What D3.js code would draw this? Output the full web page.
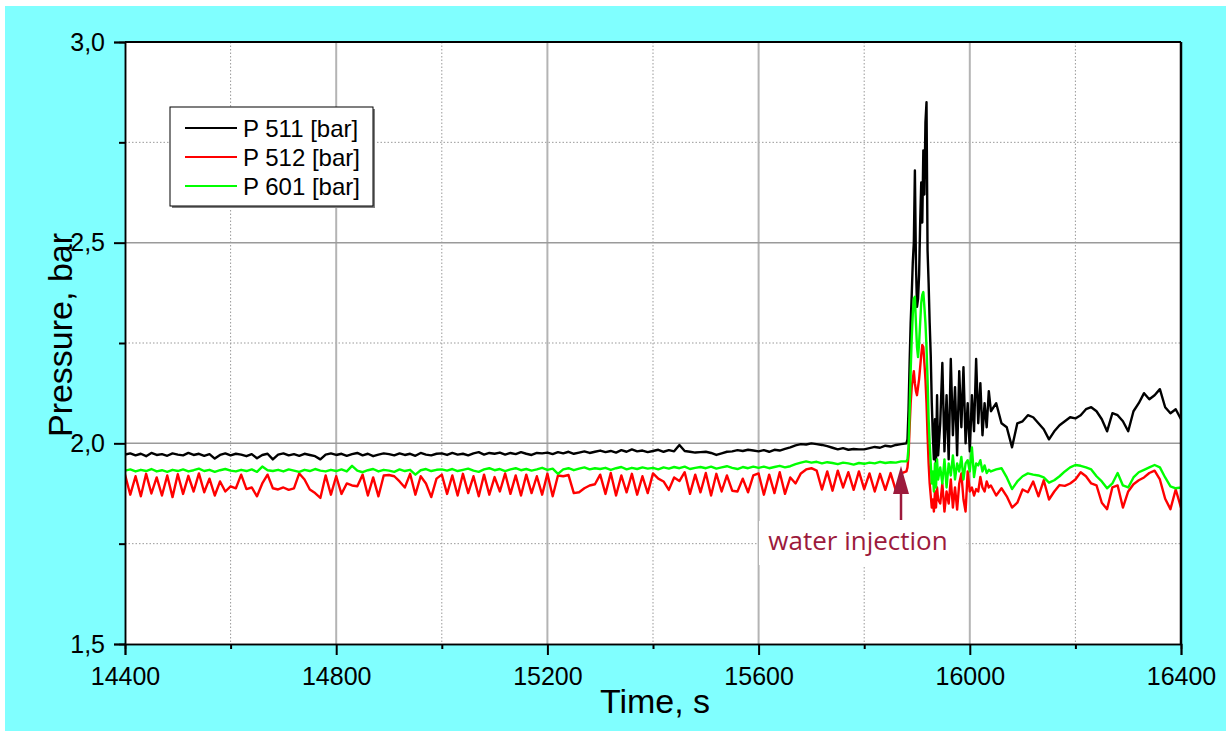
<!DOCTYPE html>
<html>
<head>
<meta charset="utf-8">
<script src="https://cdn.jsdelivr.net/npm/d3@7"></script>
<style>
  body { margin: 0; background: #fff; }
  svg { display: block; }
</style>
</head>
<body>
<div id="chart"></div>
<script>
// axis ticks
const yMajor = [1.5, 2.0, 2.5, 3.0];
const yMinor = [1.75, 2.25, 2.75];
const xMajor = [14400, 14800, 15200, 15600, 16000, 16400];
const xMinor = [14600, 15000, 15400, 15800, 16200];

const seriesNames = ['P 511 [bar]', 'P 512 [bar]', 'P 601 [bar]'];
const seriesColors = ['#000000', '#ff0000', '#00ff00'];

// regular samples every 10 s before and after the injection burst
const preStart = 14400;
const postStart = 16050;
const step = 10;

const p511Pre = [
  1.972,1.975,1.970,1.974,1.968,1.976,1.971,1.973,1.969,1.975,
  1.972,1.970,1.976,1.971,1.974,1.969,1.973,1.962,1.971,1.975,
  1.970,1.974,1.972,1.968,1.973,1.963,1.971,1.974,1.960,1.972,
  1.975,1.970,1.973,1.969,1.974,1.971,1.968,1.960,1.972,1.975,
  1.971,1.974,1.969,1.973,1.976,1.970,1.974,1.968,1.972,1.975,
  1.973,1.970,1.975,1.971,1.974,1.969,1.976,1.972,1.970,1.974,
  1.975,1.971,1.976,1.972,1.974,1.970,1.975,1.978,1.972,1.976,
  1.974,1.977,1.972,1.976,1.973,1.978,1.974,1.971,1.976,1.975,
  1.977,1.973,1.978,1.975,1.979,1.974,1.977,1.980,1.976,1.979,
  1.982,1.978,1.981,1.977,1.983,1.979,1.985,1.980,1.982,1.978,
  1.981,1.984,1.979,1.983,1.980,1.996,1.981,1.979,1.977,1.978,
  1.979,1.976,1.971,1.975,1.979,1.980,1.983,1.981,1.984,1.982,
  1.980,1.983,1.979,1.984,1.982,1.986,1.990,1.995,1.998,1.997,
  2.000,1.998,1.996,1.993,1.989,1.985,1.988,1.984,1.986,1.985,
  1.985,1.988,1.991,1.989,1.994,1.992,1.996,1.998
];
const p512Pre = [
  1.922,1.872,1.918,1.868,1.924,1.875,1.915,1.870,1.920,1.866,
  1.923,1.874,1.919,1.880,1.925,1.878,1.912,1.870,1.905,1.880,
  1.893,1.888,1.922,1.886,1.890,1.868,1.900,1.922,1.888,1.885,
  1.890,1.884,1.888,1.925,1.910,1.885,1.876,1.864,1.920,1.872,
  1.918,1.874,1.900,1.895,1.893,1.922,1.870,1.915,1.868,1.920,
  1.921,1.918,1.905,1.890,1.924,1.872,1.918,1.900,1.866,1.912,
  1.922,1.874,1.920,1.870,1.924,1.876,1.918,1.868,1.922,1.872,
  1.916,1.880,1.925,1.874,1.920,1.870,1.922,1.876,1.918,1.872,
  1.924,1.868,1.920,1.918,1.921,1.876,1.878,1.888,1.895,1.898,
  1.922,1.874,1.926,1.870,1.920,1.878,1.924,1.872,1.918,1.876,
  1.925,1.912,1.905,1.884,1.915,1.906,1.928,1.874,1.922,1.878,
  1.926,1.870,1.924,1.880,1.920,1.882,1.880,1.912,1.878,1.920,
  1.925,1.872,1.922,1.876,1.928,1.874,1.915,1.900,1.925,1.935,
  1.938,1.932,1.885,1.930,1.882,1.932,1.890,1.928,1.884,1.930,
  1.886,1.925,1.880,1.924,1.884,1.926,1.882,1.925
];
const p601Pre = [
  1.932,1.935,1.930,1.934,1.931,1.936,1.930,1.933,1.929,1.934,
  1.931,1.935,1.930,1.933,1.937,1.931,1.934,1.929,1.933,1.936,
  1.932,1.930,1.934,1.931,1.935,1.929,1.942,1.933,1.931,1.934,
  1.930,1.935,1.932,1.929,1.934,1.931,1.936,1.932,1.930,1.934,
  1.931,1.935,1.930,1.944,1.932,1.928,1.933,1.936,1.930,1.934,
  1.932,1.929,1.935,1.931,1.934,1.922,1.933,1.936,1.931,1.934,
  1.935,1.932,1.936,1.931,1.934,1.937,1.932,1.929,1.935,1.938,
  1.933,1.936,1.931,1.935,1.938,1.933,1.936,1.932,1.935,1.939,
  1.934,1.937,1.924,1.935,1.938,1.933,1.937,1.940,1.935,1.938,
  1.936,1.939,1.934,1.938,1.941,1.935,1.939,1.936,1.940,1.937,
  1.939,1.935,1.940,1.937,1.941,1.938,1.942,1.936,1.939,1.941,
  1.938,1.942,1.937,1.940,1.943,1.939,1.936,1.941,1.938,1.942,
  1.939,1.942,1.938,1.941,1.944,1.940,1.943,1.948,1.952,1.955,
  1.952,1.954,1.950,1.953,1.951,1.948,1.952,1.950,1.947,1.951,
  1.949,1.952,1.950,1.954,1.951,1.953,1.952,1.955
];

// denser samples through the burst
const spikeTimes = [
  15880,15882,15884,15886,15888,15890,15892,15894,15896,15898,
  15900,15902,15904,15906,15908,15910,15912,15914,15916,15918,
  15920,15922,15924,15926,15928,15930,15932,15934,15936,15938,15940,
  15944,15948,15952,15956,15960,15964,15968,15972,15976,15980,
  15984,15988,15992,15996,16000,16004,16008,16012,16016,16020,
  16024,16028,16032,16036,16040
];
const p511Spike = [
  2.000,2.010,2.085,2.200,2.300,2.370,2.450,2.500,2.680,2.450,
  2.340,2.360,2.420,2.550,2.650,2.550,2.730,2.620,2.800,2.850,
  2.480,2.400,2.300,2.220,2.100,2.020,1.960,2.060,1.950,2.120,1.970,
  2.050,2.200,1.980,2.120,1.960,2.210,2.020,2.140,1.970,2.180,
  2.040,2.190,2.000,2.100,1.980,2.120,2.030,2.210,2.050,2.150,
  2.020,2.100,2.040,2.130,2.080
];
const p512Spike = [
  1.930,1.940,1.970,2.040,2.100,2.140,2.160,2.180,2.150,2.130,
  2.120,2.140,2.160,2.190,2.220,2.245,2.240,2.200,2.160,2.100,
  2.020,1.950,1.900,1.870,1.840,1.860,1.830,1.880,1.840,1.890,1.860,
  1.850,1.900,1.830,1.880,1.850,1.910,1.840,1.890,1.835,1.900,
  1.925,1.860,1.830,1.930,1.880,1.890,1.870,1.886,1.880,1.916,
  1.890,1.880,1.905,1.890,1.895
];
const p601Spike = [
  1.955,1.960,1.990,2.080,2.180,2.260,2.320,2.360,2.365,2.300,
  2.240,2.215,2.250,2.300,2.350,2.370,2.377,2.340,2.300,2.240,
  2.160,2.060,2.000,1.950,1.900,1.930,1.880,1.950,1.890,1.960,1.910,
  1.940,1.900,1.960,1.890,1.950,1.920,1.970,1.910,1.950,1.930,
  1.966,1.910,1.950,1.958,1.930,1.990,1.916,1.950,1.945,1.958,
  1.930,1.945,1.926,1.934,1.930
];

const p511Post = [
  2.100,2.050,2.040,1.990,2.050,2.055,2.070,2.065,2.050,2.035,
  2.010,2.030,2.045,2.055,2.065,2.062,2.070,2.085,2.090,2.080,
  2.060,2.030,2.075,2.070,2.055,2.030,2.080,2.100,2.125,2.110,
  2.120,2.135,2.090,2.075,2.085,2.060
];
const p512Post = [
  1.870,1.888,1.868,1.840,1.852,1.885,1.878,1.905,1.868,1.908,
  1.860,1.880,1.896,1.894,1.900,1.910,1.928,1.918,1.900,1.895,
  1.852,1.836,1.890,1.895,1.840,1.880,1.898,1.908,1.915,1.926,
  1.932,1.910,1.862,1.836,1.885,1.840
];
const p601Post = [
  1.935,1.938,1.915,1.886,1.905,1.918,1.925,1.922,1.920,1.915,
  1.902,1.908,1.918,1.930,1.940,1.946,1.944,1.940,1.935,1.918,
  1.905,1.888,1.900,1.926,1.895,1.890,1.915,1.928,1.934,1.940,
  1.946,1.940,1.915,1.893,1.888,1.890
];

const width = 1226;
const height = 733;
const plot = {left: 125, right: 1181, top: 42, bottom: 644};
const fontFamily = '"Liberation Sans", Arial, sans-serif';

function buildSeries(pre, spike, post) {
    const pts = [];
    pre.forEach((v, i) => pts.push([preStart + i * step, v]));
    spike.forEach((v, i) => pts.push([spikeTimes[i], v]));
    post.forEach((v, i) => pts.push([postStart + i * step, v]));
    return pts;
}

const series = [
    buildSeries(p511Pre, p511Spike, p511Post),
    buildSeries(p512Pre, p512Spike, p512Post),
    buildSeries(p601Pre, p601Spike, p601Post)
];

const svg = d3.select('#chart').append('svg')
    .attr('width', width)
    .attr('height', height);

// cyan page frame
svg.append('rect')
    .attr('x', 5).attr('y', 6)
    .attr('width', width - 5).attr('height', height - 8)
    .attr('fill', '#80ffff');

svg.append('rect')
    .attr('x', plot.left).attr('y', plot.top)
    .attr('width', plot.right - plot.left).attr('height', plot.bottom - plot.top)
    .attr('fill', '#ffffff');

const x = d3.scaleLinear().domain([14400, 16400]).range([plot.left, plot.right]);
const y = d3.scaleLinear().domain([1.5, 3.0]).range([plot.bottom, plot.top]);

// grid
const grid = svg.append('g');
grid.selectAll('.vmin').data(xMinor).enter().append('line')
    .attr('x1', d => x(d)).attr('x2', d => x(d))
    .attr('y1', plot.top).attr('y2', plot.bottom)
    .attr('stroke', '#999').attr('stroke-width', 1).attr('stroke-dasharray', '1.5,2');
grid.selectAll('.hmin').data(yMinor).enter().append('line')
    .attr('x1', plot.left).attr('x2', plot.right)
    .attr('y1', d => y(d)).attr('y2', d => y(d))
    .attr('stroke', '#999').attr('stroke-width', 1).attr('stroke-dasharray', '1.5,2');
grid.selectAll('.vmaj').data(xMajor.slice(1, -1)).enter().append('line')
    .attr('x1', d => x(d)).attr('x2', d => x(d))
    .attr('y1', plot.top).attr('y2', plot.bottom)
    .attr('stroke', '#b4b4b4').attr('stroke-width', 2);
grid.selectAll('.hmaj').data(yMajor.slice(1, -1)).enter().append('line')
    .attr('x1', plot.left).attr('x2', plot.right)
    .attr('y1', d => y(d)).attr('y2', d => y(d))
    .attr('stroke', '#9a9a9a').attr('stroke-width', 1.5);

// annotation background box hides grid behind text
svg.append('rect')
    .attr('x', 759).attr('y', 521)
    .attr('width', 207).attr('height', 44)
    .attr('fill', '#ffffff');

// data lines
svg.append('clipPath').attr('id', 'clip')
    .append('rect')
    .attr('x', plot.left).attr('y', plot.top)
    .attr('width', plot.right - plot.left).attr('height', plot.bottom - plot.top);

const line = d3.line()
    .x(d => x(d[0]))
    .y(d => y(d[1]));

svg.append('g')
    .attr('clip-path', 'url(#clip)')
    .selectAll('path')
    .data(series)
    .enter()
    .append('path')
    .attr('d', line)
    .attr('fill', 'none')
    .attr('stroke', (d, i) => seriesColors[i])
    .attr('stroke-width', 2.4)
    .attr('stroke-linejoin', 'round');

// frame
svg.append('line').attr('x1', plot.left).attr('x2', plot.right)
    .attr('y1', plot.top).attr('y2', plot.top)
    .attr('stroke', '#000').attr('stroke-width', 2);
svg.append('line').attr('x1', plot.right).attr('x2', plot.right)
    .attr('y1', plot.top).attr('y2', plot.bottom)
    .attr('stroke', '#000').attr('stroke-width', 2.5);

// axes
const commaFormat = d => d3.format('.1f')(d).replace('.', ',');

const yAxis = svg.append('g')
    .attr('transform', `translate(${plot.left},0)`)
    .call(d3.axisLeft(y).tickValues(yMajor).tickSize(11).tickPadding(9).tickFormat(commaFormat));
const yAxisMinor = svg.append('g')
    .attr('transform', `translate(${plot.left},0)`)
    .call(d3.axisLeft(y).tickValues(yMinor).tickSize(6).tickFormat(''));
const xAxis = svg.append('g')
    .attr('transform', `translate(0,${plot.bottom})`)
    .call(d3.axisBottom(x).tickValues(xMajor).tickSize(11).tickPadding(12).tickFormat(d3.format('d')));
const xAxisMinor = svg.append('g')
    .attr('transform', `translate(0,${plot.bottom})`)
    .call(d3.axisBottom(x).tickValues(xMinor).tickSize(5).tickFormat(''));

[yAxis, yAxisMinor, xAxis, xAxisMinor].forEach(a => {
    a.select('.domain').attr('stroke', '#000').attr('stroke-width', 1.5);
    a.selectAll('.tick line').attr('stroke', '#000').attr('stroke-width', 2);
    a.selectAll('text')
        .attr('fill', '#000')
        .style('font-family', fontFamily)
        .style('font-size', '25px');
});

// axis titles
svg.append('text')
    .attr('x', 655).attr('y', 713)
    .attr('text-anchor', 'middle')
    .style('font-family', fontFamily)
    .style('font-size', '34px')
    .text('Time, s');

svg.append('text')
    .attr('transform', 'translate(72,335) rotate(-90)')
    .attr('text-anchor', 'middle')
    .style('font-family', fontFamily)
    .style('font-size', '34px')
    .text('Pressure, bar');

// legend
const legend = svg.append('g');
legend.append('rect')
    .attr('x', 172).attr('y', 109)
    .attr('width', 203).attr('height', 99)
    .attr('fill', '#808080');
legend.append('rect')
    .attr('x', 170).attr('y', 107)
    .attr('width', 203).attr('height', 99)
    .attr('fill', '#fff').attr('stroke', '#000').attr('stroke-width', 1);

const rowY = [128, 157, 186];
legend.selectAll('.ll').data(seriesNames).enter().append('line')
    .attr('x1', 185).attr('x2', 237)
    .attr('y1', (d, i) => rowY[i]).attr('y2', (d, i) => rowY[i])
    .attr('stroke', (d, i) => seriesColors[i])
    .attr('stroke-width', 2);
legend.selectAll('.lt').data(seriesNames).enter().append('text')
    .attr('x', 243)
    .attr('y', (d, i) => rowY[i])
    .attr('dy', '0.36em')
    .style('font-family', fontFamily)
    .style('font-size', '24px')
    .text(d => d);

// water injection marker
const markColor = '#9c1a3c';
svg.append('line')
    .attr('x1', 901).attr('x2', 901)
    .attr('y1', 520).attr('y2', 490)
    .attr('stroke', markColor).attr('stroke-width', 2.5);
svg.append('path')
    .attr('d', 'M901,466 L909,494 L893,494 Z')
    .attr('fill', markColor);
svg.append('text')
    .attr('x', 858).attr('y', 550)
    .attr('text-anchor', 'middle')
    .attr('fill', markColor)
    .style('font-family', '"Open Sans", sans-serif')
    .style('font-size', '26px')
    .text('water injection');
</script>
</body>
</html>
